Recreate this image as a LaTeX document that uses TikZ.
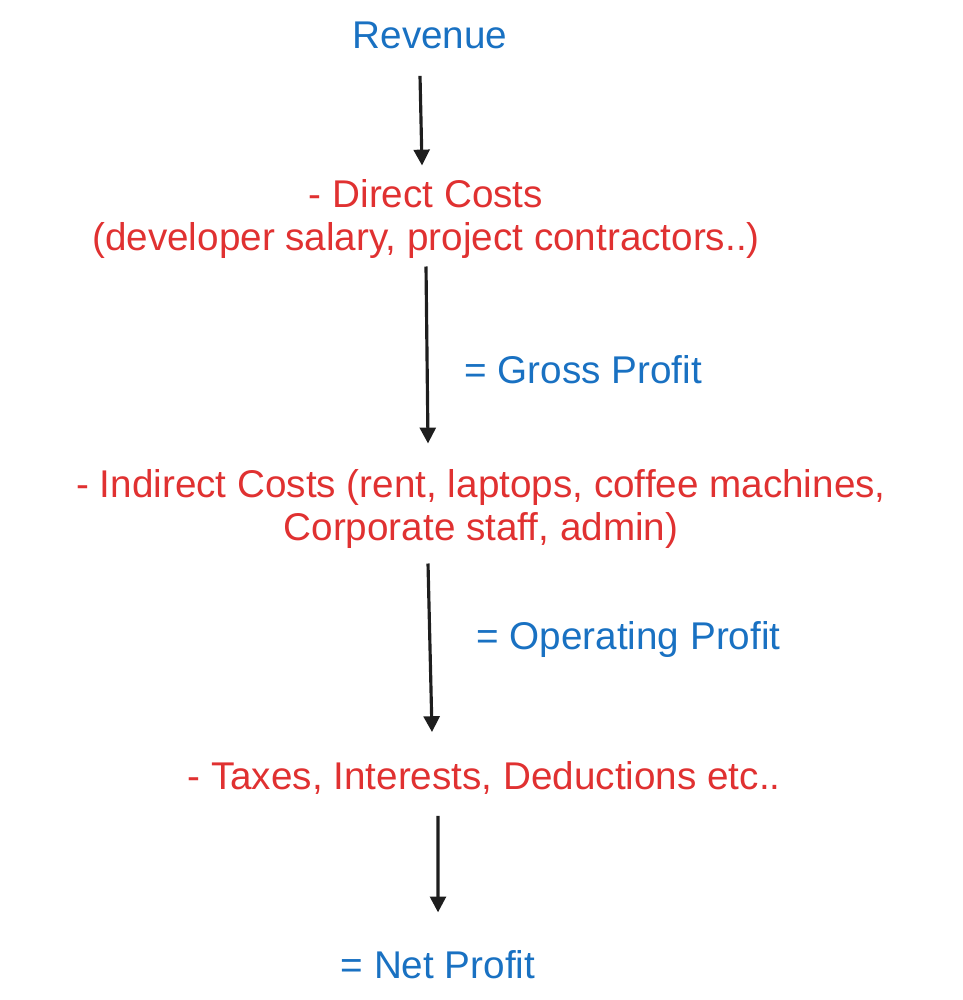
\documentclass[tikz,border=0pt]{standalone}
\usepackage{fontspec}
\setmainfont{Liberation Sans}
\usetikzlibrary{arrows.meta}
\definecolor{exblue}{HTML}{1971C2}
\definecolor{exred}{HTML}{E03131}
\definecolor{exink}{HTML}{1E1E1E}

\tikzset{
  plus/.style={text=exblue, font=\fontsize{11}{12}\selectfont},
  minus/.style={text=exred, font=\fontsize{11}{12}\selectfont, align=center},
  flow/.style={draw=exink, line width=0.9pt, -{Triangle[width=4.5pt,length=4.5pt]}}
}

\begin{document}
\begin{tikzpicture}

\useasboundingbox (0,0) rectangle (9.62,10);

\node[plus] (rev) at (4.30,9.65) {Revenue};
\node[minus] (dc) at (4.26,7.81) {- Direct Costs\\(developer salary, project contractors..)};
\node[plus, anchor=west] (gp) at (4.52,6.30) {= Gross Profit};
\node[minus] (ic) at (4.81,4.91) {- Indirect Costs (rent, laptops, coffee machines,\\Corporate staff, admin)};
\node[plus, anchor=west] (op) at (4.64,3.60) {= Operating Profit};
\node[minus] (tx) at (4.84,2.22) {- Taxes, Interests, Deductions etc..};
\node[plus] (np) at (4.38,0.35) {= Net Profit};

\draw[flow] ([xshift=-1mm,yshift=-1.5mm]rev.south) -- ([xshift=-0.4mm,yshift=0.2mm]dc.north);
\draw[flow] ([xshift=0mm,yshift=0.4mm]dc.south) -- ([xshift=-5.3mm,yshift=1.4mm]ic.north);
\draw[flow] ([xshift=-5.3mm,yshift=-0.3mm]ic.south) -- ([xshift=-5.2mm,yshift=1.7mm]tx.north);
\draw[flow] ([xshift=-4.6mm,yshift=-0.9mm]tx.south) -- ([yshift=2.6mm]np.north);

\end{tikzpicture}
\end{document}
